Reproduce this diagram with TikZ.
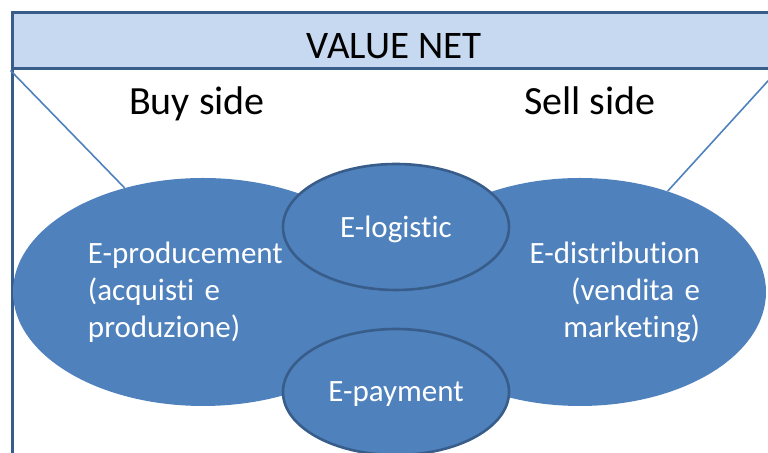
\documentclass[tikz,border=0pt]{standalone}
\usepackage{fontspec}
\setmainfont{Carlito}[Ligatures={NoCommon,NoRequired,NoContextual}]
\usepackage{xcolor}
\usetikzlibrary{shapes.geometric}

\definecolor{netblue}{HTML}{4F81BD}
\definecolor{netdark}{HTML}{385D8A}
\definecolor{netlight}{HTML}{C6D9F1}

\begin{document}
\begin{tikzpicture}[
  x=0.5pt, y=-0.5pt,
  frame/.style={draw=netdark, line width=1.5pt},
  header/.style={rectangle, draw=netdark, fill=netlight, line width=1.5pt,
                 minimum width=382pt, minimum height=28pt, inner sep=0pt,
                 text height=17.5pt, text depth=0pt,
                 font=\fontsize{19.5}{23}\selectfont},
  side/.style={anchor=base, font=\fontsize{20}{24}\selectfont},
  bigell/.style={ellipse, fill=netblue, inner sep=0pt, minimum height=114pt,
                 text=white, font=\fontsize{15.5}{18.5}\selectfont},
  smallell/.style={ellipse, fill=netblue, draw=netdark, line width=1.3pt,
                   minimum width=113pt, minimum height=63pt, inner sep=0pt,
                   text depth=0pt, text=white,
                   font=\fontsize{15.5}{18.5}\selectfont},
  link/.style={draw=netblue, line width=0.8pt}
]
  \useasboundingbox (0,0) rectangle (768,453);
  \clip (0,0) rectangle (768,453);

  % frame and title band
  \draw[frame] (12,13) -- (12,470);
  \node[header] (title) at (394,41) {VALUE NET};

  % the two sides
  \node[bigell, minimum width=190pt, text width=115pt, align=left] (buy)
    at (203,292) {E-producement\\(acquisti e\\produzione)};
  \node[bigell, minimum width=186pt, text width=120pt, align=right] (sell)
    at (580,292) {E-distribution\\(vendita e\\marketing)};
  \fill[netblue] (300,270) rectangle (490,350); % fill between the sides

  % services in the middle
  \node[smallell] (logistic) at (396,227) {E-logistic};
  \node[smallell] (payment) at (396,392) {E-payment};

  \draw[link] (title.south west) -- (buy.127);
  \draw[link] (title.south east) -- (sell.49);

  \node[side] (buyside) at (197,115) {Buy side};
  \node[side] (sellside) at (590,115) {Sell side};
\end{tikzpicture}
\end{document}
